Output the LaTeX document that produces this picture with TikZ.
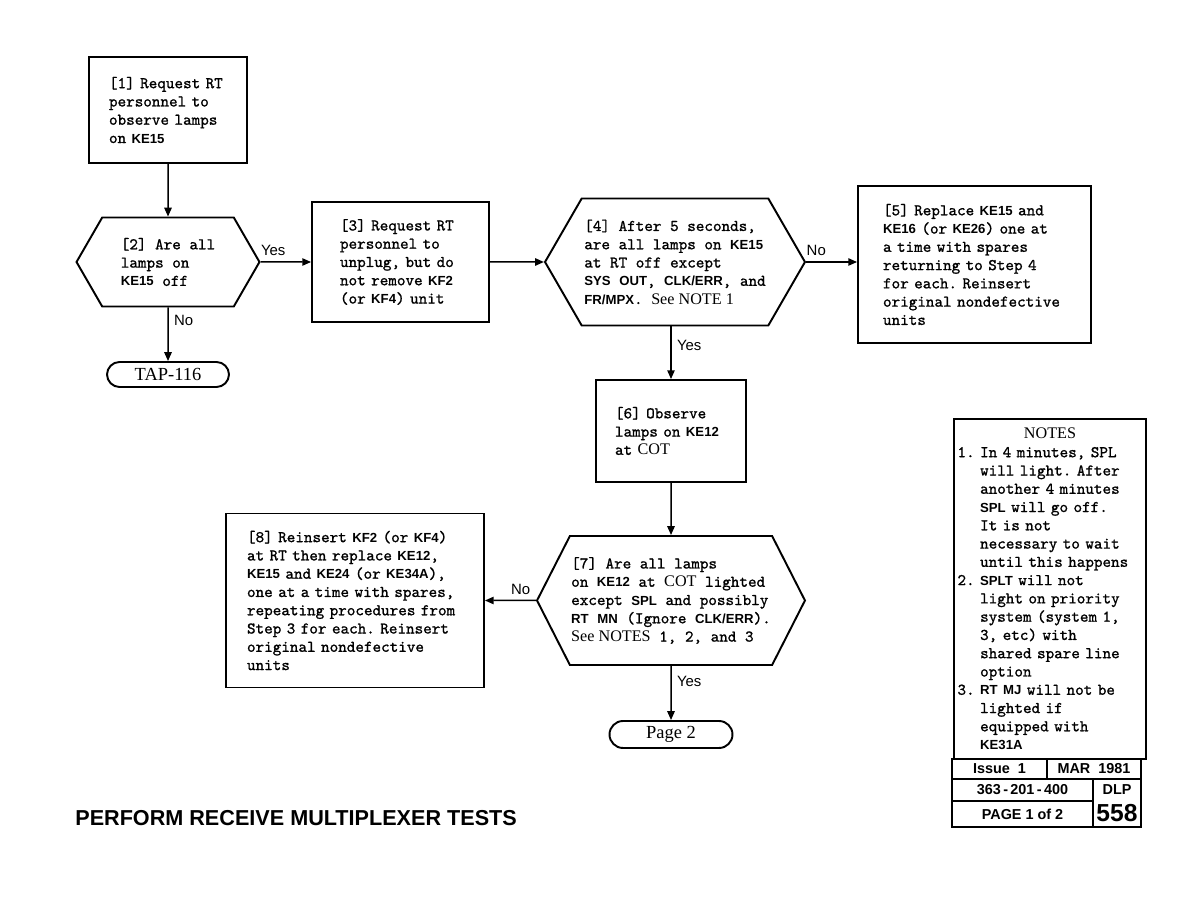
\documentclass[tikz,border=0pt]{standalone}
\usepackage{fontspec}
\usepackage{tikz}
\usetikzlibrary{shapes.symbols, shapes.misc, arrows.meta, positioning}
\newfontfamily\tw{lmmono10-regular}[Extension=.otf, FakeBold=1.1]
\newfontfamily\kbf{Liberation Sans}
\newfontfamily\sr{Liberation Serif}
\newcommand\kb[1]{{\kbf\bfseries\fontsize{7.5}{10.4}\selectfont #1}}
\newcommand\rs[1]{{\sr\fontsize{9.2}{10.4}\selectfont #1}}
\newcommand\ind{\phantom{1. }}
\frenchspacing

\begin{document}
\begin{tikzpicture}[x=0.02cm, y=-0.02cm,
    box/.style={draw, line width=1.1pt, rectangle, align=left, inner ysep=0pt, font=\tw\fontsize{9.3}{10.4}\selectfont},
    hex/.style={draw, line width=1.1pt, signal, signal to=west and east, signal pointer angle=120, align=left, inner sep=0pt, font=\tw\fontsize{9.3}{10.4}\selectfont},
    term/.style={draw, line width=1.1pt, rounded rectangle, inner sep=0pt, font=\sr\fontsize{10.5}{12}\selectfont},
    arr/.style={-{Triangle[length=5pt, width=4.2pt]}, line width=0.85pt},
    lbl/.style={font=\kbf\fontsize{8.5}{10}\selectfont, inner sep=3pt},
    cell/.style={draw, line width=1pt, inner sep=0pt, font=\kbf\bfseries\fontsize{8.2}{9}\selectfont},
]
\useasboundingbox (0,0) rectangle (1188,918);

% Upper chain: steps 1 to 5
\node[box, text width=2.36cm, inner xsep=0.4cm, minimum height=2.12cm] (request) at (168,110) {[1] Request RT\\personnel to\\observe lamps\\on \kb{KE15}};
\node[hex, minimum width=3.66cm, minimum height=1.78cm] (allOff) at (168,262) {[2] Are all\\lamps on\\\kb{KE15} off};
\node[term, minimum width=2.44cm, minimum height=0.5cm] (tap) at (168,374.5) {TAP-116};
\node[box, text width=2.42cm, inner xsep=0.56cm, minimum height=2.4cm] (unplug) at (400.5,262) {[3] Request RT\\personnel to\\unplug, but do\\not remove \kb{KF2}\\(or \kb{KF4}) unit};
\node[hex, minimum width=5.2cm, minimum height=2.54cm] (afterFive) at (675,262) {[4] After 5 seconds,\\are all lamps on \kb{KE15}\\at RT off except\\\kb{SYS} \kb{OUT}, \kb{CLK/ERR}, and\\\kb{FR/MPX}. \rs{See NOTE 1}};
\node[box, text width=3.66cm, inner xsep=0.5cm, minimum height=3.14cm] (replace) at (974.5,264.5) {[5] Replace \kb{KE15} and\\\kb{KE16} (or \kb{KE26}) one at\\a time with spares\\returning to Step 4\\for each. Reinsert\\original nondefective\\units};

\draw[arr] (request) -- (allOff);
\draw[arr] (allOff) -- node[lbl, above, pos=0.25] {Yes} (unplug);
\draw[arr] (allOff) -- node[lbl, right, pos=0.25] {No} (tap);
\draw[arr] (unplug) -- (afterFive);
\draw[arr] (afterFive.east) -- node[lbl, above, pos=0.2] {No} (afterFive.east -| replace.west);

% Lower chain: steps 6 to 8
\node[box, text width=2.24cm, inner xsep=0.38cm, minimum height=2.04cm] (observe) at (671,431) {[6] Observe\\lamps on \kb{KE12}\\at \rs{COT}};
\node[hex, signal pointer angle=126, minimum width=5.36cm, minimum height=2.58cm] (lighted) at (671,600.5) {[7] Are all lamps\\on \kb{KE12} at \rs{COT} lighted\\except \kb{SPL} and possibly\\\kb{RT} \kb{MN} (Ignore \kb{CLK/ERR}).\\\rs{See NOTES} 1, 2, and 3};
\node[box, text width=4.32cm, inner xsep=0.42cm, minimum height=3.48cm] (reinsert) at (355,600.5) {[8] Reinsert \kb{KF2} (or \kb{KF4})\\at RT then replace \kb{KE12},\\\kb{KE15} and \kb{KE24} (or \kb{KE34A}),\\one at a time with spares,\\repeating procedures from\\Step 3 for each. Reinsert\\original nondefective\\units};
\node[term, minimum width=2.46cm, minimum height=0.54cm] (page) at (671,734.5) {Page 2};

\draw[arr] (afterFive.south -| observe.north) -- node[lbl, right, pos=0.37] {Yes} (observe.north);
\draw[arr] (observe) -- (lighted);
\draw[arr] (lighted) -- node[lbl, above, pos=0.3] {No} (reinsert);
\draw[arr] (lighted) -- node[lbl, right, pos=0.29] {Yes} (page);

% Notes and title block
\node[draw, line width=1.1pt, minimum width=3.84cm, minimum height=6.8cm, text width=3.7cm, inner xsep=0.07cm, align=left, font=\tw\fontsize{9.3}{10.4}\selectfont] (notes) at (1050,589) {\makebox[3.7cm]{\rs{NOTES}}\\1. In 4 minutes, SPL\\\ind will light. After\\\ind another 4 minutes\\\ind \kb{SPL} will go off.\\\ind It is not\\\ind necessary to wait\\\ind until this happens\\2. \kb{SPLT} will not\\\ind light on priority\\\ind system (system 1,\\\ind 3, etc) with\\\ind shared spare line\\\ind option\\3. \kb{RT} \kb{MJ} will not be\\\ind lighted if\\\ind equipped with\\\ind \kb{KE31A}};
\node[cell, minimum width=1.9cm, minimum height=0.4cm] (issue) at (999.5,769) {Issue\ \ 1};
\node[cell, minimum width=1.88cm, minimum height=0.4cm] (date) at (1094,769) {MAR\ \ 1981};
\node[cell, minimum width=2.82cm, minimum height=0.44cm] (docno) at (1022.5,790) {363\,-\,201\,-\,400};
\node[cell, minimum width=2.82cm, minimum height=0.52cm] (pageno) at (1022.5,814) {PAGE\ 1\ of\ 2};
\node[cell, minimum width=0.96cm, minimum height=0.96cm] (dlp) at (1117,803) {};
\node[font=\kbf\bfseries\fontsize{8.2}{9}\selectfont, inner sep=0pt] (dlpName) at (1117,790) {DLP};
\node[font=\kbf\bfseries\fontsize{14}{16}\selectfont, inner sep=0pt] (dlpNo) at (1117,813) {558};

\node[anchor=base west, inner sep=0pt, font=\kbf\bfseries\fontsize{12.3}{14}\selectfont] (title) at (75,826) {PERFORM RECEIVE MULTIPLEXER TESTS};

\end{tikzpicture}
\end{document}
